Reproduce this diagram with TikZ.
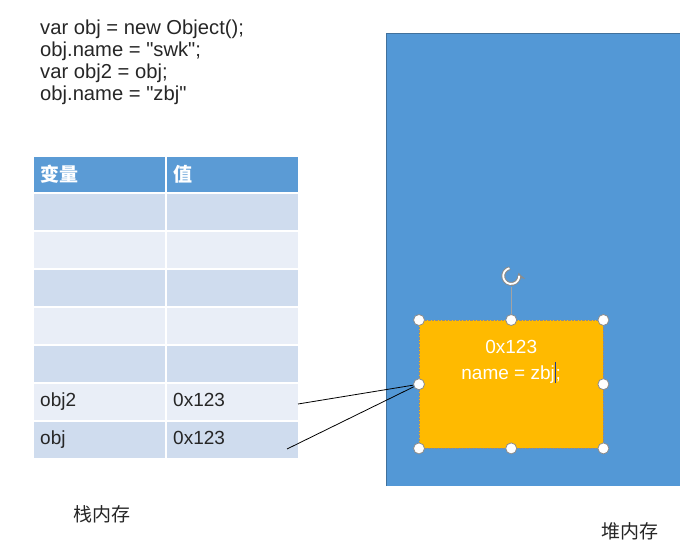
\documentclass[tikz,border=0pt]{standalone}
\usepackage{fontspec}
\setmainfont{Liberation Sans}
\newfontfamily\cjk{Noto Sans CJK SC}
\usetikzlibrary{arrows.meta,positioning}

\definecolor{hdrblue}{HTML}{5B9BD5}
\definecolor{rowdark}{HTML}{CFDCEE}
\definecolor{rowlight}{HTML}{E9EEF7}
\definecolor{heapblue}{HTML}{5398D6}
\definecolor{heapedge}{HTML}{41719C}
\definecolor{objorange}{HTML}{FFBA00}
\definecolor{handlegray}{HTML}{8C8C8C}
\definecolor{cursorblue}{HTML}{1F3A93}

\newcommand\txtcursor{\textcolor{cursorblue}{\rule[-0.2em]{0.8pt}{1.1em}}}

\tikzset{
  cellbox/.style={draw=white,line width=1.5pt,anchor=north west,minimum width=133pt,
    minimum height=38pt,text width=117pt,inner xsep=8pt,align=left},
  celltext/.style={inner sep=0pt,text height=14pt,text depth=4pt,font=\fontsize{19}{22}\selectfont,text=black!85},
  handle/.style={circle,draw=handlegray,fill=white,line width=0.8pt,minimum size=11pt,inner sep=0pt},
  link/.style={black,line width=0.8pt},
  memlabel/.style={font=\cjk\fontsize{19}{22}\selectfont,text=black!85}
}

\begin{document}
\begin{tikzpicture}[x=1pt,y=-1pt]
\useasboundingbox (0,0) rectangle (680,554);

% code
\node[anchor=north west,inner sep=0pt,align=left,font=\fontsize{20.2}{22}\selectfont,text=black!85] (code) at (40,20)
  {var obj = new Object();\\obj.name = \textquotedbl swk\textquotedbl;\\var obj2 = obj;\\obj.name = \textquotedbl zbj\textquotedbl};

% stack table
\node[cellbox,fill=hdrblue,minimum height=37pt,text=white,font=\cjk\bfseries\fontsize{19}{22}\selectfont] (vh) at (32,155) {变量};
\node[cellbox,fill=hdrblue,minimum height=37pt,text=white,font=\cjk\bfseries\fontsize{19}{22}\selectfont] (ah) at (165,155) {值};
\foreach \i/\shade in {1/rowdark,2/rowlight,3/rowdark,4/rowlight,5/rowdark,6/rowlight,7/rowdark} {
  \node[cellbox,fill=\shade] (v\i) at (32,192+38*\i-38) {};
  \node[cellbox,fill=\shade] (a\i) at (165,192+38*\i-38) {};
}
\node[celltext,right=8pt of v6.west] (n6) {obj2};
\node[celltext,right=8pt of a6.west] (m6) {0x123};
\node[celltext,right=8pt of v7.west] (n7) {obj};
\node[celltext,right=8pt of a7.west] (m7) {0x123};

% heap
\fill[heapblue] (386,33) rectangle (682,486);
\draw[heapedge,line width=1pt] (386,486) -- (386,33) -- (682,33);

% object in heap
\node[draw=handlegray,densely dotted,fill=objorange,anchor=north west,minimum width=184pt,minimum height=128pt] (obj) at (419,320) {};
\node[anchor=north,align=center,inner sep=0pt,text=white,font=\fontsize{19}{26}\selectfont] (objtxt) at ([yshift=-20pt]obj.north)
  {0x123\\name = zbj\txtcursor;};

% selection handles
\coordinate (rot) at ([yshift=44pt]obj.north);
\draw[handlegray!80,line width=1.2pt] (obj.north) -- ([yshift=-11pt]rot);
\begin{scope}[shift={(rot)},x=1pt,y=1pt]
  \draw[handlegray,line width=3.8pt,-{Stealth[length=7pt,width=9pt]}] (100:8) arc[start angle=100,end angle=378,radius=8];
  \draw[white,line width=1.8pt] (103:8) arc[start angle=103,end angle=362,radius=8];
\end{scope}
\foreach \a in {north west,north,north east,west,east,south west,south,south east}
  \node[handle] (h-\a) at (obj.\a) {};

% references
\coordinate (p2) at (298,404);
\coordinate (p1) at (287,449);
\draw[link] (p2) -- (h-west);
\draw[link] (p1) -- (h-west);

\node[memlabel] (stack) at (102,514) {栈内存};
\node[memlabel] (heap) at (630,531) {堆内存};
\end{tikzpicture}
\end{document}
